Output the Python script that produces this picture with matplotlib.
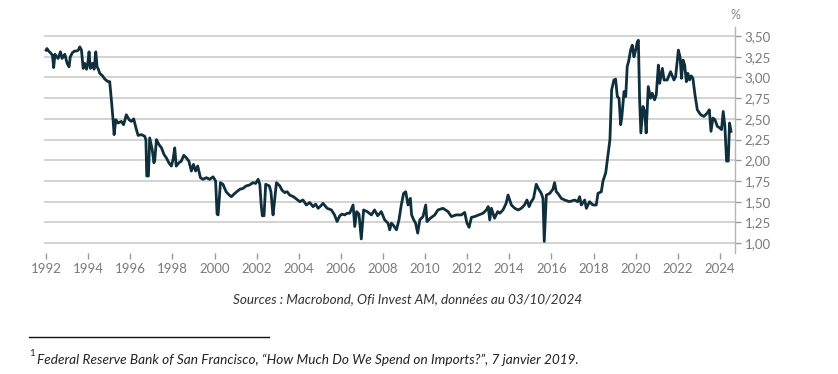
import matplotlib
matplotlib.use("Agg")
import matplotlib.pyplot as plt
from matplotlib.ticker import FuncFormatter, FixedLocator

dates = [1992.00, 1992.04, 1992.12, 1992.20, 1992.30, 1992.36, 1992.42, 1992.50, 1992.57, 1992.68, 1992.76, 1992.83, 1992.89,
         1993.00, 1993.09, 1993.15, 1993.25, 1993.36, 1993.45, 1993.53, 1993.60, 1993.68, 1993.76, 1993.84, 1993.92, 1993.98,
         1994.04, 1994.10, 1994.20, 1994.28, 1994.36, 1994.42, 1994.48, 1994.55, 1994.68, 1994.79, 1994.94,
         1995.02, 1995.10, 1995.18, 1995.23, 1995.31, 1995.42, 1995.57, 1995.68, 1995.81, 1995.94,
         1996.05, 1996.16, 1996.29, 1996.37, 1996.53, 1996.68, 1996.74, 1996.78, 1996.86, 1996.92,
         1997.04, 1997.12, 1997.16, 1997.24, 1997.36, 1997.48, 1997.60, 1997.71, 1997.83, 1997.95,
         1998.03, 1998.11, 1998.18, 1998.31, 1998.42, 1998.54, 1998.66, 1998.78, 1998.90,
         1999.00, 1999.10, 1999.20, 1999.33, 1999.45, 1999.61, 1999.77, 1999.93,
         2000.05, 2000.12, 2000.17, 2000.28, 2000.40, 2000.55, 2000.70, 2000.80, 2000.96,
         2001.20, 2001.35, 2001.50, 2001.65, 2001.83, 2001.95,
         2002.07, 2002.15, 2002.22, 2002.27, 2002.35, 2002.43, 2002.52, 2002.60, 2002.68, 2002.75, 2002.78, 2002.94,
         2003.10, 2003.20, 2003.33, 2003.45, 2003.57, 2003.75, 2003.90,
         2004.05, 2004.20, 2004.36, 2004.52, 2004.68, 2004.80, 2004.92,
         2005.05, 2005.15, 2005.35, 2005.55, 2005.70, 2005.82, 2005.95,
         2006.05, 2006.18, 2006.30, 2006.42, 2006.58, 2006.66, 2006.75, 2006.86, 2006.97,
         2007.08, 2007.25, 2007.45, 2007.60, 2007.75, 2007.92,
         2008.08, 2008.24, 2008.32, 2008.40, 2008.48, 2008.64, 2008.76, 2008.87, 2008.98,
         2009.08, 2009.19, 2009.30, 2009.36, 2009.46, 2009.55, 2009.65, 2009.75, 2009.90,
         2010.03, 2010.09, 2010.25, 2010.46, 2010.61, 2010.85,
         2011.09, 2011.25, 2011.48, 2011.72, 2011.88, 2011.99,
         2012.09, 2012.20, 2012.35, 2012.55, 2012.75, 2012.91,
         2013.00, 2013.07, 2013.15, 2013.30, 2013.45, 2013.55, 2013.70, 2013.85, 2013.94,
         2014.10, 2014.26, 2014.42, 2014.57, 2014.72, 2014.84, 2014.94,
         2015.04, 2015.15, 2015.28, 2015.40, 2015.52, 2015.60, 2015.66, 2015.76, 2015.92,
         2016.07, 2016.15, 2016.23, 2016.31, 2016.47, 2016.63, 2016.86,
         2017.10, 2017.25, 2017.34, 2017.42, 2017.58, 2017.66, 2017.81, 2017.97,
         2018.13, 2018.21, 2018.37, 2018.45, 2018.58, 2018.70, 2018.78, 2018.86, 2018.97,
         2019.05, 2019.13, 2019.21, 2019.29, 2019.34, 2019.40, 2019.45, 2019.53, 2019.60, 2019.68, 2019.76, 2019.84, 2019.92,
         2020.00, 2020.08, 2020.13, 2020.19, 2020.25, 2020.35, 2020.43, 2020.50, 2020.60, 2020.71, 2020.79, 2020.90, 2020.98,
         2021.08, 2021.14, 2021.27, 2021.35, 2021.50, 2021.66, 2021.82, 2021.90,
         2022.03, 2022.11, 2022.18, 2022.25, 2022.33, 2022.41, 2022.48, 2022.56, 2022.64, 2022.72, 2022.82, 2022.93,
         2023.09, 2023.24, 2023.40, 2023.50, 2023.58, 2023.67, 2023.77, 2023.88,
         2024.00, 2024.08, 2024.16, 2024.24, 2024.32, 2024.40, 2024.46, 2024.53]

values = [3.33, 3.35, 3.32, 3.30, 3.27, 3.12, 3.28, 3.25, 3.23, 3.31, 3.23, 3.26, 3.28,
          3.17, 3.13, 3.25, 3.30, 3.32, 3.32, 3.33, 3.37, 3.33, 3.11, 3.17, 3.10, 3.17,
          3.31, 3.11, 3.17, 3.10, 3.31, 3.13, 3.10, 3.05, 3.02, 2.98, 2.95,
          2.95, 2.73, 2.49, 2.31, 2.49, 2.45, 2.47, 2.43, 2.55, 2.49,
          2.47, 2.50, 2.37, 2.30, 2.31, 2.29, 2.25, 1.81, 1.81, 2.27,
          2.13, 1.97, 2.00, 2.25, 2.19, 2.15, 2.07, 2.03, 1.97, 1.93,
          2.01, 2.15, 1.93, 1.97, 1.99, 2.06, 2.03, 1.99, 1.87,
          1.95, 1.87, 1.93, 1.79, 1.77, 1.79, 1.77, 1.80,
          1.75, 1.35, 1.34, 1.73, 1.71, 1.62, 1.58, 1.56, 1.60,
          1.65, 1.66, 1.69, 1.70, 1.73, 1.72,
          1.77, 1.71, 1.45, 1.33, 1.33, 1.71, 1.70, 1.69, 1.62, 1.40, 1.34, 1.73,
          1.69, 1.64, 1.61, 1.62, 1.58, 1.56, 1.53,
          1.50, 1.52, 1.46, 1.49, 1.44, 1.47, 1.42,
          1.45, 1.48, 1.42, 1.40, 1.34, 1.26, 1.33,
          1.35, 1.34, 1.36, 1.36, 1.46, 1.20, 1.38, 1.35, 1.05,
          1.40, 1.38, 1.34, 1.40, 1.33, 1.38,
          1.28, 1.24, 1.16, 1.24, 1.22, 1.16, 1.28, 1.46, 1.60,
          1.62, 1.46, 1.54, 1.34, 1.28, 1.24, 1.12, 1.28, 1.32,
          1.46, 1.26, 1.30, 1.34, 1.40, 1.42,
          1.38, 1.32, 1.34, 1.34, 1.37, 1.24,
          1.19, 1.31, 1.32, 1.34, 1.36, 1.40,
          1.44, 1.28, 1.42, 1.30, 1.38, 1.36, 1.40, 1.48, 1.58,
          1.46, 1.42, 1.40, 1.42, 1.46, 1.52, 1.44,
          1.50, 1.54, 1.71, 1.65, 1.60, 1.54, 1.02, 1.58, 1.60,
          1.65, 1.73, 1.62, 1.60, 1.54, 1.52, 1.50,
          1.52, 1.50, 1.56, 1.46, 1.52, 1.42, 1.50, 1.46,
          1.46, 1.60, 1.62, 1.75, 1.85, 2.09, 2.25, 2.85, 2.97,
          2.98, 2.77, 2.75, 2.43, 2.51, 2.69, 2.83, 2.77, 3.13, 3.21, 3.33, 3.39, 3.25,
          3.33, 3.43, 3.45, 2.73, 2.33, 2.65, 2.59, 2.33, 2.89, 2.75, 2.81, 2.73, 2.79,
          3.15, 2.93, 3.11, 2.97, 2.97, 3.07, 2.97, 3.01,
          3.33, 3.25, 2.99, 3.21, 3.15, 2.95, 3.05, 2.97, 3.02, 2.99, 2.79, 2.61,
          2.55, 2.53, 2.57, 2.61, 2.35, 2.51, 2.49, 2.41,
          2.39, 2.37, 2.59, 2.41, 1.99, 1.99, 2.45, 2.35]

x_ticks = list(range(1992, 2025, 2))
y_ticks = [1.00, 1.25, 1.50, 1.75, 2.00, 2.25, 2.50, 2.75, 3.00, 3.25, 3.50]

source_text = "Sources : Macrobond, Ofi Invest AM, données au 03/10/2024"
footnote_text = "Federal Reserve Bank of San Francisco, \u201cHow Much Do We Spend on Imports?\u201d, 7 janvier 2019."

plt.rcParams['font.family'] = ['Lato', 'DejaVu Sans']

fig = plt.figure(figsize=(8.38, 3.74), dpi=100)
ax = fig.add_axes([44/838, 1 - 253/374, (735 - 44)/838, (253 - 27)/374])

ax.plot(dates, values, color='#0e2f3b', lw=2.0, solid_joinstyle='round', zorder=3)

ax.set_xlim(1991.9, 2024.72)
ax.set_ylim(0.88, 3.61)

ax.xaxis.set_major_locator(FixedLocator(x_ticks))
ax.yaxis.set_major_locator(FixedLocator(y_ticks))
ax.yaxis.set_major_formatter(FuncFormatter(lambda v, p: f"{v:.2f}".replace('.', ',')))

ax.yaxis.tick_right()
ax.grid(axis='y', color='#cccccc', lw=1.2, zorder=1)
ax.grid(axis='x', visible=False)
for s in ['top', 'left', 'bottom']:
    ax.spines[s].set_visible(False)
ax.spines['right'].set_color('#b5b5b5')
ax.spines['right'].set_linewidth(1.0)

ax.tick_params(axis='x', colors='#9a9a9a', labelcolor='#7a7a7a', length=4, width=1, pad=3, labelsize=9.5)
ax.tick_params(axis='y', colors='#9a9a9a', labelcolor='#7a7a7a', length=4, width=1, pad=3, labelsize=9.5)

fig.text(735/838, 1 - 15/374, '%', color='#888888', fontsize=9, ha='center', va='center')

fig.text(408/838, 1 - 299/374, source_text, fontsize=9.7, style='italic', color='#333333',
         ha='center', va='center')

fig.add_artist(plt.Line2D([29/838, 269/838], [1 - 337/374, 1 - 337/374], color='#111111', lw=1.0,
                          transform=fig.transFigure))
fig.text(29/838, 1 - 354/374, '1', fontsize=7, color='#222222', ha='left', va='center')
fig.text(37/838, 1 - 360/374, footnote_text, fontsize=9.8, style='italic', color='#222222',
         ha='left', va='center')

fig.savefig('out.png', dpi=100, facecolor='white')
